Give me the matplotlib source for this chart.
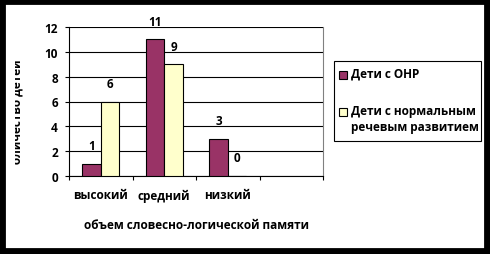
import matplotlib.pyplot as plt
from matplotlib.patches import Rectangle
from matplotlib.transforms import Bbox

plt.rcParams['font.family'] = ['Open Sans', 'DejaVu Sans']
plt.rcParams['font.weight'] = 'bold'
fs = 8.5

categories = ['высокий', 'средний', 'низкий', '']
onr = [1, 11, 3, None]
normal = [6, 9, 0, None]
series_names = ['Дети с ОНР', 'Дети с нормальным\nречевым развитием']
colors = ['#993366', '#FFFFCC']

fig = plt.figure(figsize=(4.9, 2.55), dpi=100)
ax = fig.add_axes([69 / 490, 1 - 177 / 255, 254 / 490, 149 / 255])

width = 0.29
for k, (vals, col) in enumerate(zip([onr, normal], colors)):
    off = -width / 2 if k == 0 else width / 2
    xs = [i + off for i, v in enumerate(vals) if v is not None]
    ys = [v for v in vals if v is not None]
    ax.bar(xs, ys, width=width, color=col, edgecolor='black', linewidth=0.8, zorder=3)
    for x, y in zip(xs, ys):
        ax.annotate(str(y), (x, y), xytext=(0, 18), textcoords='offset pixels',
                    ha='center', va='center', fontsize=fs, fontweight='bold',
                    annotation_clip=False)

ax.set_xlim(-0.5, 3.5)
ax.set_ylim(0, 12)
ax.set_yticks(range(0, 13, 2))
ax.yaxis.grid(True, color='black', linewidth=0.8, zorder=0)
ax.set_axisbelow(True)
ax.set_xticks([-0.5, 0.5, 1.5, 2.5, 3.5])
ax.set_xticklabels([])
ax.set_xticks(range(len(categories)), minor=True)
ax.set_xticklabels(categories, minor=True, fontsize=fs, fontweight='bold')
ax.tick_params(axis='x', which='minor', length=0, pad=9)
ax.tick_params(axis='x', which='major', length=3, width=0.8, direction='out')
ax.tick_params(axis='y', length=3, width=0.8, labelsize=fs, pad=5)
for lab in ax.get_yticklabels():
    lab.set_fontweight('bold')

ax.spines['top'].set_visible(False)
ax.spines['right'].set_color('#808080')
ax.spines['left'].set_linewidth(0.8)
ax.spines['bottom'].set_linewidth(0.8)

ax.set_xlabel('объем словесно-логической памяти', fontsize=fs, fontweight='bold', labelpad=12)

# y label, partly cut off as in the original
yl = fig.text(24 / 490, 1 - 59 / 255, 'Количество детей', rotation=90,
              ha='right', va='top', fontsize=fs, fontweight='bold')
yl.set_clip_box(Bbox([[15, 255 - 166], [100, 255]]))
yl.set_clip_on(True)

# legend box
fig.add_artist(Rectangle((334 / 490, 1 - 142 / 255), 147 / 490, 80 / 255,
                         transform=fig.transFigure, facecolor='white',
                         edgecolor='black', linewidth=0.8))
ys_leg = [76, 113]
for name, col, yp in zip(series_names, colors, ys_leg):
    fig.add_artist(Rectangle((339 / 490, 1 - (yp + 4) / 255), 8 / 490, 8 / 255,
                             transform=fig.transFigure, facecolor=col,
                             edgecolor='black', linewidth=0.8))
    fig.text(351 / 490, 1 - (yp - 8) / 255, name, ha='left', va='top',
             fontsize=fs, fontweight='bold', linespacing=1.3)

# black frame
fig.add_artist(Rectangle((0, 0), 1, 1, transform=fig.transFigure, fill=False,
                         edgecolor='black', linewidth=8.5))

fig.savefig('out.png', dpi=100)
